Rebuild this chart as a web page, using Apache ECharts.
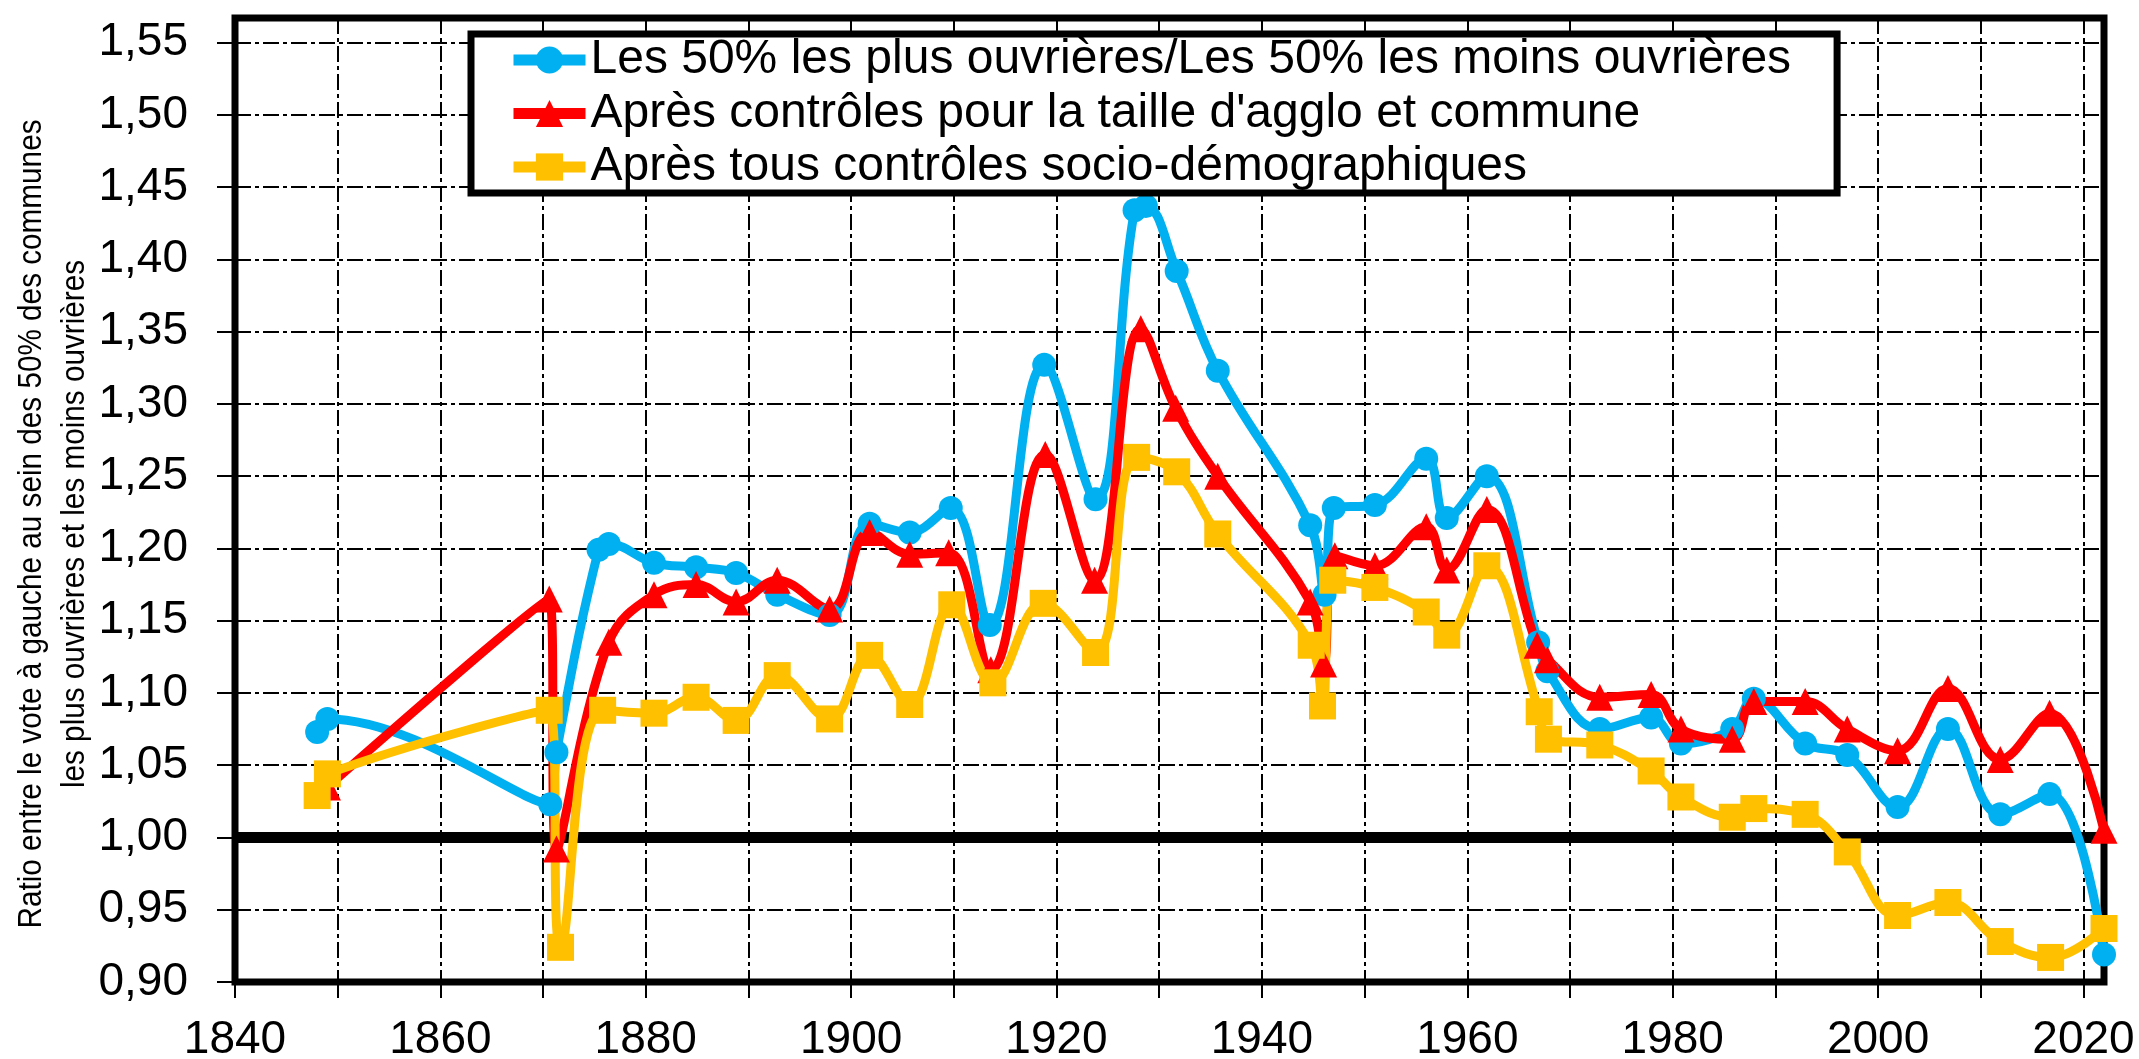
<!DOCTYPE html>
<html>
<head>
<meta charset="utf-8">
<script src="https://cdn.jsdelivr.net/npm/echarts@6/dist/echarts.min.js"></script>
<style>
html,body{margin:0;padding:0;background:#fff;}
#chart{width:2139px;height:1059px;}
</style>
</head>
<body>
<div id="chart"></div>
<script>
// ---- data ----
const seriesNames = [
  "Les 50% les plus ouvrières/Les 50% les moins ouvrières",
  "Après contrôles pour la taille d'agglo et commune",
  "Après tous contrôles socio-démographiques"
];
const xTickLabels = [1840, 1860, 1880, 1900, 1920, 1940, 1960, 1980, 2000, 2020];
const yTickLabels = ["0,90","0,95","1,00","1,05","1,10","1,15","1,20","1,25","1,30","1,35","1,40","1,45","1,50","1,55"];
const yTitleLines = [
  "Ratio entre le vote à gauche au sein des 50% des communes",
  "les plus ouvrières et les moins ouvrières"
];

const blueYears = [1848, 1849, 1870.7, 1871.3, 1875.4, 1876.4, 1880.8, 1884.9, 1888.8, 1892.8, 1897.9, 1901.8, 1905.7, 1909.7, 1913.5, 1918.8, 1923.8, 1927.6, 1928.7, 1931.7, 1935.7, 1944.7, 1946.1, 1947.0, 1951.0, 1956.0, 1958.0, 1961.9, 1966.9, 1967.8, 1972.9, 1977.9, 1980.8, 1985.8, 1987.9, 1992.9, 1997.0, 2001.9, 2006.8, 2011.9, 2016.7, 2022.0];
const blueValues = [1.073, 1.082, 1.023, 1.059, 1.199, 1.203, 1.190, 1.187, 1.183, 1.168, 1.154, 1.217, 1.211, 1.228, 1.147, 1.327, 1.234, 1.434, 1.437, 1.392, 1.323, 1.216, 1.168, 1.228, 1.230, 1.262, 1.221, 1.250, 1.135, 1.115, 1.075, 1.083, 1.065, 1.075, 1.096, 1.065, 1.057, 1.021, 1.075, 1.016, 1.030, 0.919];

const redYears = [1849, 1870.6, 1871.3, 1876.4, 1880.8, 1884.9, 1888.8, 1892.8, 1897.9, 1901.8, 1905.7, 1909.5, 1913.6, 1918.9, 1923.7, 1928.2, 1931.6, 1935.7, 1944.7, 1946.0, 1947.1, 1951.0, 1956.0, 1958.0, 1961.9, 1966.8, 1967.8, 1972.9, 1977.9, 1980.8, 1985.8, 1987.9, 1992.9, 1997.0, 2001.9, 2006.8, 2011.9, 2016.7, 2022.0];
const redValues = [1.035, 1.165, 0.992, 1.135, 1.168, 1.175, 1.163, 1.178, 1.158, 1.211, 1.196, 1.197, 1.116, 1.265, 1.178, 1.352, 1.297, 1.250, 1.163, 1.120, 1.195, 1.188, 1.215, 1.185, 1.227, 1.133, 1.123, 1.097, 1.099, 1.075, 1.068, 1.094, 1.094, 1.075, 1.060, 1.103, 1.054, 1.086, 1.005];

const yellowYears = [1848, 1849, 1870.6, 1871.7, 1875.8, 1880.8, 1884.9, 1888.8, 1892.8, 1897.9, 1901.8, 1905.7, 1909.8, 1913.8, 1918.7, 1923.8, 1927.8, 1931.7, 1935.7, 1944.8, 1945.9, 1946.9, 1951.0, 1956.0, 1958.0, 1961.9, 1967.0, 1967.9, 1972.9, 1977.9, 1980.8, 1985.8, 1987.9, 1992.9, 1997.0, 2001.9, 2006.8, 2011.9, 2016.8, 2022.0];
const yellowValues = [1.029, 1.044, 1.088, 0.924, 1.088, 1.086, 1.097, 1.081, 1.112, 1.082, 1.126, 1.092, 1.161, 1.107, 1.162, 1.128, 1.263, 1.253, 1.210, 1.133, 1.091, 1.178, 1.173, 1.156, 1.140, 1.188, 1.087, 1.068, 1.064, 1.046, 1.028, 1.014, 1.020, 1.016, 0.990, 0.946, 0.955, 0.928, 0.917, 0.937];

const referenceLineValue = 1.0;

// ---- build chart ----
const pairs = (xs, ys) => xs.map((x, i) => [x, ys[i]]);
const FONT = '"Liberation Sans", Arial, sans-serif';

const chart = echarts.init(document.getElementById('chart'), null, {renderer: 'canvas'});

const lineSeries = (name, data, color, symbol, size, extra) => Object.assign({
  name: name,
  type: 'line',
  data: data,
  smooth: 0.4,
  clip: false,
  symbol: symbol,
  symbolSize: size,
  showAllSymbol: true,
  lineStyle: {color: color, width: 9},
  itemStyle: {color: color},
  emphasis: {disabled: true},
  animation: false
}, extra || {});

chart.setOption({
  animation: false,
  backgroundColor: '#ffffff',
  grid: {left: 235, right: 35, top: 18, bottom: 77, show: true, borderColor: '#000', borderWidth: 7, backgroundColor: 'transparent', outerBoundsMode: 'none'},
  legend: {
    orient: 'vertical',
    left: 471, top: 34,
    padding: [2, 46, 2, 37],
    itemWidth: 72, itemHeight: 34, itemGap: 5.5,
    backgroundColor: '#fff', borderColor: '#000', borderWidth: 7,
    data: seriesNames,
    lineStyle: {width: 11},
    textStyle: {fontSize: 48, lineHeight: 48, color: '#000', fontFamily: FONT},
    z: 10
  },
  xAxis: {
    type: 'value', min: 1840, max: 2022, interval: 10,
    axisLine: {show: false},
    axisTick: {show: true, length: 16, lineStyle: {color: '#000', width: 2}},
    axisLabel: {
      margin: 35, fontSize: 46, color: '#000', fontFamily: FONT,
      showMaxLabel: false,
      formatter: v => xTickLabels.indexOf(v) >= 0 ? String(v) : ''
    },
    splitLine: {show: true, lineStyle: {color: '#000', width: 2, type: [16, 4, 4, 4]}}
  },
  yAxis: {
    type: 'value', min: 0.9, max: 1.567, interval: 0.05,
    axisLine: {show: false},
    axisTick: {show: true, length: 18, lineStyle: {color: '#000', width: 2}},
    axisLabel: {
      margin: 47, fontSize: 46, color: '#000', fontFamily: FONT,
      showMaxLabel: false,
      formatter: v => { const i = Math.round((v - 0.9) / 0.05); return (i >= 0 && i < yTickLabels.length && Math.abs(v - (0.9 + i * 0.05)) < 1e-6) ? yTickLabels[i] : ''; }
    },
    splitLine: {show: true, lineStyle: {color: '#000', width: 2, type: [16, 4, 4, 4]}}
  },
  graphic: [
    {type: 'text', x: 32, y: 524, rotation: Math.PI / 2, scaleX: 0.9,
     style: {text: yTitleLines[0], fontSize: 33, fontFamily: FONT, fill: '#000', align: 'center', verticalAlign: 'middle'}},
    {type: 'text', x: 75, y: 524, rotation: Math.PI / 2, scaleX: 0.9,
     style: {text: yTitleLines[1], fontSize: 33, fontFamily: FONT, fill: '#000', align: 'center', verticalAlign: 'middle'}}
  ],
  series: [
    lineSeries(seriesNames[0], pairs(blueYears, blueValues), '#00B0F0', 'circle', 24, {
      markLine: {
        silent: true, symbol: 'none', z: 1,
        label: {show: false},
        lineStyle: {color: '#000', width: 11, type: 'solid'},
        data: [{yAxis: referenceLineValue}]
      }
    }),
    lineSeries(seriesNames[1], pairs(redYears, redValues), '#FF0000', 'triangle', 27),
    lineSeries(seriesNames[2], pairs(yellowYears, yellowValues), '#FFC000', 'rect', 27)
  ]
});
</script>
</body>
</html>
